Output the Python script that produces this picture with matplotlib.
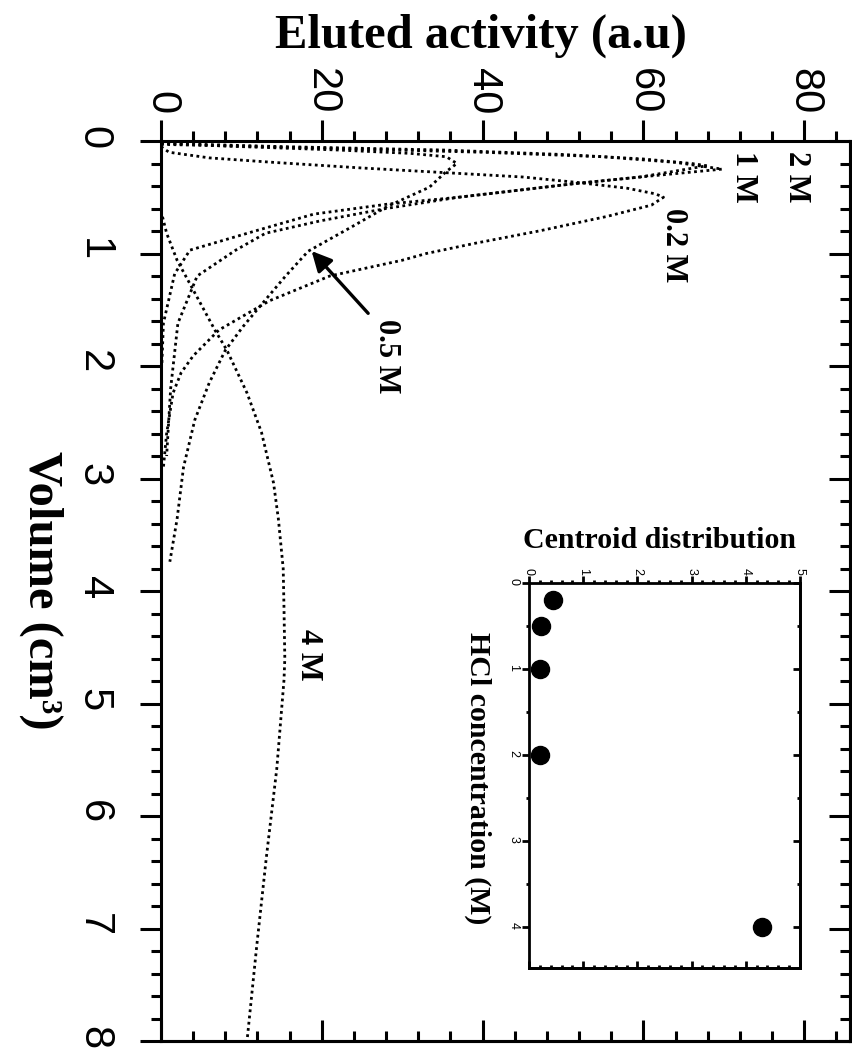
import matplotlib
matplotlib.use("Agg")
import matplotlib.pyplot as plt
from matplotlib.ticker import MultipleLocator

# elution curves (volume in cm3, eluted activity in a.u.)
vol_02 = [0.05, 0.10, 0.15, 0.19, 0.24, 0.28, 0.32, 0.37, 0.42, 0.47, 0.50, 0.57, 0.67, 0.80,
          0.91, 1.00, 1.06, 1.20, 1.42, 1.68, 1.91, 2.06, 2.24, 2.60, 2.90]
act_02 = [0, 1, 6, 14, 25, 35, 45, 52, 58, 61.5, 62.5, 61, 55.5, 47,
          39, 33, 30, 21, 13.5, 7.2, 4, 2.5, 1.5, 0.7, 0.3]

vol_05 = [0.02, 0.05, 0.08, 0.11, 0.14, 0.20, 0.27, 0.41, 0.58, 0.76, 0.98, 1.20, 1.47,
          1.65, 1.86, 2.15, 2.48, 2.90, 3.36, 3.74]
act_05 = [0, 10, 22, 31, 35.5, 36.8, 35.5, 33.4, 28.2, 23.8, 18.3, 15.5, 12.3,
          10.2, 8, 6, 4.2, 2.8, 2, 1.1]

vol_1 = [0.02, 0.05, 0.08, 0.12, 0.16, 0.20, 0.22, 0.32, 0.38, 0.45, 0.50, 0.56, 0.65,
         0.80, 0.97, 1.18, 1.62, 2.00]
act_1 = [0, 15, 35, 50, 60, 66, 67.9, 59.6, 51.3, 43, 37, 28.3, 19,
         11.7, 3.6, 1.7, 0.3, 0.1]

vol_2 = [0.03, 0.06, 0.10, 0.14, 0.19, 0.25, 0.32, 0.38, 0.45, 0.50, 0.60, 0.71, 0.82,
         0.97, 1.20, 1.62, 2.20, 2.80]
act_2 = [0, 18, 40, 55, 64, 69.8, 59.6, 51.3, 43, 37, 28, 19.8, 13,
         9.3, 4.5, 2.1, 1.2, 0.7]

vol_4 = [0.62, 0.82, 1.06, 1.27, 1.68, 1.86, 2.24, 2.59, 3.04, 3.36, 3.80, 4.16, 4.60,
         4.79, 5.58, 6.37, 7.16, 8.00]
act_4 = [0, 0.7, 2, 3.6, 6.7, 8.2, 10.7, 12.5, 14, 14.6, 15.2, 15.3, 15.4,
         15.3, 14.4, 13.1, 11.9, 10.7]

# inset: centroid of each elution peak vs HCl concentration
hcl_conc = [0.2, 0.5, 1, 2, 4]
centroid = [0.44, 0.23, 0.20, 0.21, 4.29]

serif = "Liberation Serif"
sans = "Liberation Sans"
W, H = 853, 1059


def style_axes(ax, xmaj, xmin, ymaj, ymin, big, lw, fs, xpad, ypad):
    for s in ax.spines.values():
        s.set_linewidth(lw)
    ax.xaxis.set_major_locator(MultipleLocator(xmaj))
    ax.xaxis.set_minor_locator(MultipleLocator(xmin))
    ax.yaxis.set_major_locator(MultipleLocator(ymaj))
    ax.yaxis.set_minor_locator(MultipleLocator(ymin))
    ax.xaxis.tick_top()
    ax.tick_params(axis="x", which="both", direction="out", top=True, bottom=False,
                   labeltop=True, labelbottom=False, pad=xpad)
    ax.tick_params(axis="y", which="both", direction="out", left=True, right=False, pad=ypad)
    ax.tick_params(which="major", length=big, width=lw)
    ax.tick_params(which="minor", length=big / 2, width=lw)
    for lab in ax.get_xticklabels():
        lab.set_rotation(270)
        lab.set_fontfamily(sans)
        lab.set_fontsize(fs)
    for lab in ax.get_yticklabels():
        lab.set_rotation(270)
        lab.set_fontfamily(sans)
        lab.set_fontsize(fs)
    # mirrored ticks pointing inward on bottom and right sides
    sx = ax.secondary_xaxis("bottom")
    sx.xaxis.set_major_locator(MultipleLocator(xmaj))
    sx.xaxis.set_minor_locator(MultipleLocator(xmin))
    sx.tick_params(which="both", direction="in", labelbottom=False)
    sx.tick_params(which="major", length=big, width=lw)
    sx.tick_params(which="minor", length=big / 2, width=lw)
    sx.spines["bottom"].set_linewidth(lw)
    sy = ax.secondary_yaxis("right")
    sy.yaxis.set_major_locator(MultipleLocator(ymaj))
    sy.yaxis.set_minor_locator(MultipleLocator(ymin))
    sy.tick_params(which="both", direction="in", labelright=False)
    sy.tick_params(which="major", length=big, width=lw)
    sy.tick_params(which="minor", length=big / 2, width=lw)
    sy.spines["right"].set_linewidth(lw)


fig = plt.figure(figsize=(W / 100, H / 100), dpi=100)
ax = fig.add_axes([161 / W, 1 - 1041 / H, (850 - 161) / W, (1041 - 141) / H])

dot = dict(color="black", linestyle=(0, (1, 1.25)), linewidth=2.0)
for v, a in [(vol_02, act_02), (vol_05, act_05), (vol_1, act_1), (vol_2, act_2), (vol_4, act_4)]:
    ax.plot(a, v, **dot)

ax.set_xlim(0, 85.7)
ax.set_ylim(8, 0)
style_axes(ax, 20, 4, 1, 0.2, 15, 2.2, 30, 4, 19)

lab = dict(fontfamily=serif, fontweight="bold", fontsize=22, rotation=270,
           ha="center", va="center")
ax.text(79.1, 0.32, "2 M", **lab)
ax.text(72.4, 0.32, "1 M", **lab)
ax.text(63.7, 0.93, "0.2 M", **lab)
ax.text(28.0, 1.91, "0.5 M", **lab)
ax.text(18.3, 4.57, "4 M", **lab)
ax.annotate("", xy=(18.5, 0.96), xytext=(26.0, 1.55),
            arrowprops=dict(arrowstyle="-|>", color="black", lw=2.4, mutation_scale=30))

fig.text(481 / W, 1 - 36 / H, "Eluted activity (a.u)", fontfamily=serif,
         fontweight="bold", fontsize=35, ha="center", va="center")
fig.text(41 / W, 1 - 590 / H, "Volume (cm³)", fontfamily=serif, fontweight="bold",
         fontsize=35, rotation=270, ha="center", va="center")

# inset
axi = fig.add_axes([529 / W, 1 - 968 / H, (800 - 529) / W, (968 - 583) / H])
axi.plot(centroid, hcl_conc, "o", color="black", markersize=13)
axi.set_xlim(0, 5)
axi.set_ylim(4.48, 0)
style_axes(axi, 1, 0.2, 1, 0.5, 5, 2.0, 9, 1, 2)
fig.text(660 / W, 1 - 541 / H, "Centroid distribution", fontfamily=serif,
         fontweight="bold", fontsize=21.5, ha="center", va="center")
fig.text(478 / W, 1 - 778 / H, "HCl concentration (M)", fontfamily=serif,
         fontweight="bold", fontsize=21.5, rotation=270, ha="center", va="center")

fig.savefig("out.png", dpi=100)
